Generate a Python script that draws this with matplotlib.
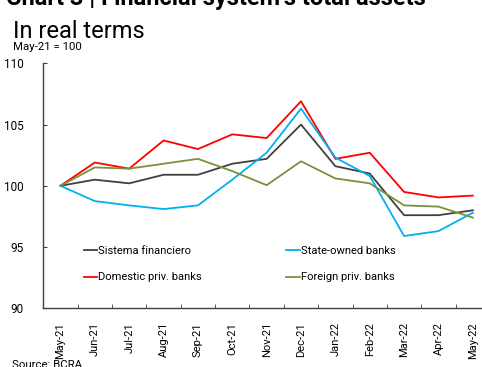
import matplotlib
matplotlib.use('Agg')
import matplotlib.pyplot as plt

plt.rcParams['font.family'] = ['Roboto', 'DejaVu Sans']

# Data (index, May-21 = 100)
months = ['May-21', 'Jun-21', 'Jul-21', 'Aug-21', 'Sep-21', 'Oct-21', 'Nov-21',
          'Dec-21', 'Jan-22', 'Feb-22', 'Mar-22', 'Apr-22', 'May-22']
sistema = [100.0, 100.5, 100.2, 100.9, 100.9, 101.8, 102.2, 105.0, 101.6, 101.0, 97.6, 97.6, 98.0]
state_owned = [100.0, 98.75, 98.4, 98.1, 98.4, 100.5, 102.7, 106.3, 102.3, 100.8, 95.9, 96.3, 97.8]
domestic = [100.0, 101.9, 101.4, 103.7, 103.0, 104.2, 103.9, 106.9, 102.2, 102.7, 99.5, 99.05, 99.2]
foreign = [100.0, 101.5, 101.4, 101.8, 102.2, 101.2, 100.05, 102.0, 100.6, 100.2, 98.4, 98.3, 97.4]

fig = plt.figure(figsize=(4.82, 3.67), dpi=100)
ax = fig.add_axes([0.0898, 0.160, 0.9268, 0.6675])

x = list(range(len(months)))
ax.plot(x, sistema, color='#404040', lw=1.3, label='Sistema financiero')
ax.plot(x, domestic, color='#FF0000', lw=1.3, label='Domestic priv. banks')
ax.plot(x, state_owned, color='#00B0F0', lw=1.3, label='State-owned banks')
ax.plot(x, foreign, color='#77933C', lw=1.3, label='Foreign priv. banks')

ax.set_xlim(-0.5, len(months) - 0.5)
ax.set_ylim(90, 110)
ax.set_yticks([90, 95, 100, 105, 110])

ax.set_xticks(x)
ax.set_xticklabels(months, rotation=90, fontsize=8)
ax.set_xticks([i + 0.5 for i in range(-1, len(months))], minor=True)
ax.tick_params(axis='x', which='major', length=0, pad=10)
ax.tick_params(axis='x', which='minor', direction='in', length=3, color='#404040')
ax.tick_params(axis='y', direction='in', length=3, labelsize=8.5, pad=14, color='#404040')

for s in ['top', 'right']:
    ax.spines[s].set_visible(False)
for s in ['left', 'bottom']:
    ax.spines[s].set_color('#404040')
    ax.spines[s].set_linewidth(1.0)

handles, labels = ax.get_legend_handles_labels()
ax.legend(handles, labels, ncol=2, loc='upper left', bbox_to_anchor=(0.091, 0.255),
          frameon=False, fontsize=8, handlelength=1.2, handletextpad=0.1,
          columnspacing=7.6, labelspacing=1.5, borderaxespad=0, borderpad=0)

fig.text(0.012, 0.986, "Chart 3 | Financial system's total assets", fontsize=17,
         fontweight='bold', va='baseline', ha='left')
fig.text(0.027, 0.915, 'In real terms', fontsize=17, va='center', ha='left')
fig.text(0.027, 0.873, 'May-21 = 100', fontsize=8.2, va='center', ha='left')
fig.text(0.024, -0.003, 'Source: BCRA', fontsize=8.2, va='baseline', ha='left')

fig.savefig('out.png', dpi=100)
